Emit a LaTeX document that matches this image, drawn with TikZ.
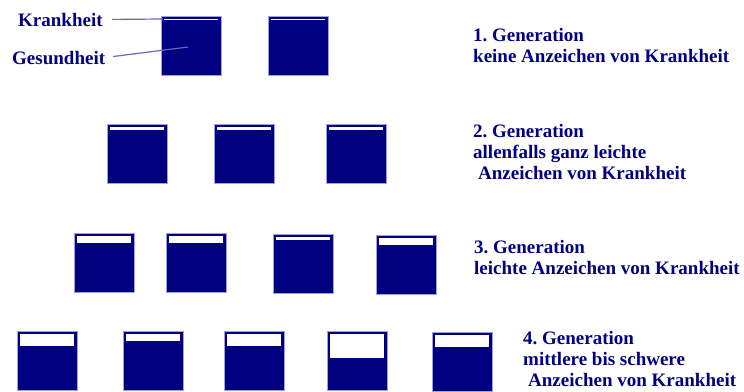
\documentclass[tikz,border=0pt]{standalone}
\usepackage{fontspec}
\setmainfont{Liberation Serif}
\frenchspacing
\definecolor{boxblue}{RGB}{0,0,128}
\definecolor{rimblue}{RGB}{160,160,220}
\definecolor{pointblue}{RGB}{105,105,190}

\begin{document}
\begin{tikzpicture}[x=1pt,y=-1pt]
\tikzstyle{gentext}=[inner sep=0pt,text=boxblue,font=\fontsize{19}{21}\selectfont\bfseries,align=left,anchor=base west]%
\tikzstyle{tank}=[fill=boxblue,draw=rimblue,line width=0.8pt]%
\tikzstyle{pointer}=[draw=pointblue,line width=1.2pt]%
\useasboundingbox (0,0) rectangle (744,391);
% boxes: left / top / height of the white part
\foreach \x/\y/\h in {161/16/1,268/16/1,
  107/124/3,214/124/3,326/124/3,
  74/233/6.7,166/233/6.7,273/234/3,376/235/7,
  17/331/12,123/331/7,224/331/12,327/331/24,432/332/12} {
\draw[tank] (\x,\y) rectangle +(60,59);
\fill[white] (\x+3,\y+3) rectangle +(54,\h);}
% legend
\node[gentext] (krank) at (18,26) {Krankheit};
\node[gentext] (gesund) at (12,64) {Gesundheit};
\coordinate (krankend) at (163,19);
\coordinate (gesundend) at (188,47);
\draw[pointer,shorten <=9pt] (krank.east) -- (krankend);
\draw[pointer,shorten <=8pt] (gesund.east) -- (gesundend);
% generations (anchored at the last line)
\node[gentext] (gen1) at (473,62) {1. Generation\\keine Anzeichen von Krankheit};
\node[gentext] (gen2) at (473,179) {2. Generation\\allenfalls ganz leichte\\\hspace{5pt}Anzeichen von Krankheit};
\node[gentext] (gen3) at (474,274) {3. Generation\\leichte Anzeichen von Krankheit};
\node[gentext] (gen4) at (523,386) {4. Generation\\mittlere bis schwere\\\hspace{5pt}Anzeichen von Krankheit};
\end{tikzpicture}
\end{document}
